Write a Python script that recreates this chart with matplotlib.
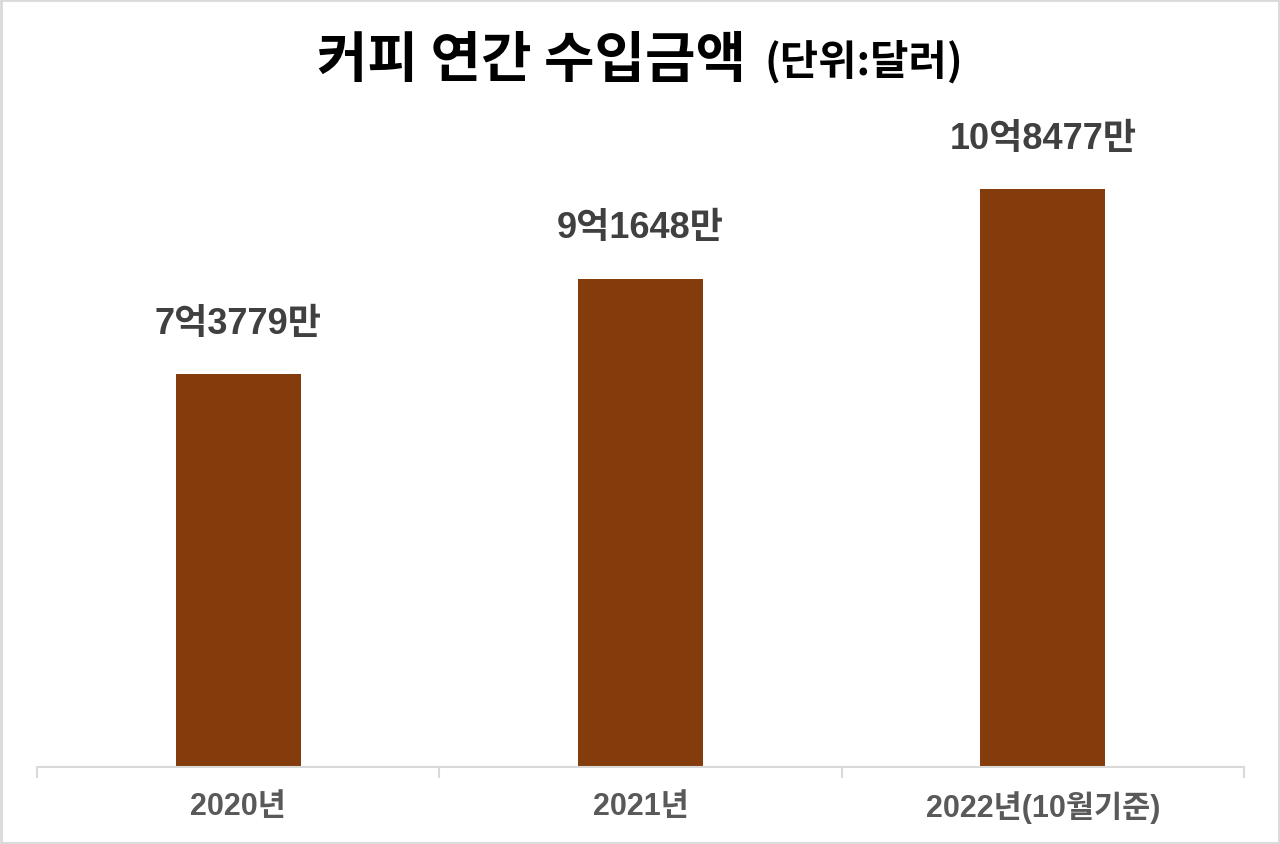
import matplotlib
matplotlib.use("Agg")
import matplotlib.pyplot as plt
from matplotlib.patches import Rectangle

plt.rcParams["font.family"] = ["Liberation Sans", "Noto Sans CJK KR", "DejaVu Sans"]
TITLE_FONT = ["Noto Sans CJK KR", "DejaVu Sans"]

CATEGORIES = ["2020년", "2021년", "2022년(10월기준)"]
VALUES = [737790000, 916480000, 1084770000]
VALUE_LABELS = ["7억3779만", "9억1648만", "10억8477만"]

BAR_COLOR = "#843C0C"
GRID_GRAY = "#D9D9D9"

fig = plt.figure(figsize=(12.8, 8.45), dpi=100)
ax = fig.add_axes([37 / 1280, 1 - 768 / 845, (1244 - 37) / 1280, (768 - 98) / 845])

x = list(range(len(CATEGORIES)))
bars = ax.bar(x, VALUES, width=0.31, color=BAR_COLOR, zorder=2)

for bar, label in zip(bars, VALUE_LABELS):
    ax.annotate(label,
                xy=(bar.get_x() + bar.get_width() / 2, bar.get_height()),
                xytext=(0, 24), textcoords="offset points",
                ha="center", va="bottom",
                fontsize=26, fontweight="bold", color="#404040")

ax.set_xlim(-0.5, len(CATEGORIES) - 0.5)
ax.set_ylim(0, max(VALUES) * 670 / 578)

ax.set_xticks(x)
ax.set_xticklabels(CATEGORIES, fontsize=22, fontweight="bold", color="#595959")
ax.tick_params(axis="x", which="major", length=0, pad=17)
ax.set_xticks([i - 0.5 for i in range(len(CATEGORIES) + 1)], minor=True)
ax.tick_params(axis="x", which="minor", length=8, width=1.5, color=GRID_GRAY)
ax.set_yticks([])

for side in ["top", "left", "right"]:
    ax.spines[side].set_visible(False)
ax.spines["bottom"].set_color(GRID_GRAY)
ax.spines["bottom"].set_linewidth(1.5)

# title in two sizes
fig.text(746 / 1280, 1 - 60 / 845, "커피 연간 수입금액", family=TITLE_FONT,
         ha="right", va="center", fontsize=39.5, fontweight="heavy", color="black")
fig.text(764 / 1280, 1 - 62 / 845, "(단위:달러)", family=TITLE_FONT,
         ha="left", va="center", fontsize=30, fontweight="heavy", color="black")

# outer border
fig.patches.append(Rectangle((0.001, 0.001), 0.998, 0.998, transform=fig.transFigure,
                             fill=False, edgecolor=GRID_GRAY, linewidth=2))

fig.savefig("out.png", dpi=100)
